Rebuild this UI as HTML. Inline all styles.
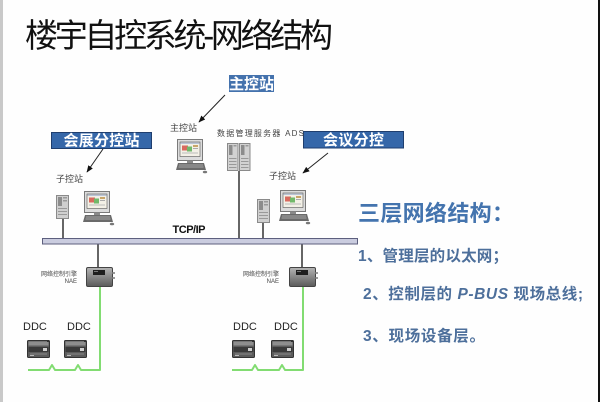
<!DOCTYPE html>
<html><head><meta charset="utf-8">
<style>
html,body{margin:0;padding:0;background:#fff;}
svg{display:block;}
</style></head>
<body>
<svg width="600" height="402" viewBox="0 0 600 402" xmlns="http://www.w3.org/2000/svg">
<defs>
  <marker id="ah" viewBox="0 0 10 10" refX="9" refY="5" markerWidth="7" markerHeight="7" orient="auto" markerUnits="userSpaceOnUse">
    <path d="M0,1 L10,5 L0,9 z" fill="#111"/>
  </marker>
  <g id="pc">
    <rect x="2.5" y="0.5" width="25" height="21" fill="#dcdcdc" stroke="#7a7a7a"/>
    <rect x="5" y="3" width="20" height="14.5" fill="#f3f0e6" stroke="#555" stroke-width="0.6"/>
    <rect x="5.5" y="3.5" width="19" height="1.5" fill="#b9c3d6"/>
    <rect x="7" y="6.5" width="6" height="5" fill="#d86a5e"/>
    <rect x="12" y="7.5" width="5" height="5" fill="#72b86a"/>
    <rect x="18" y="6" width="5" height="2" fill="#c8a56a"/>
    <rect x="18" y="9" width="5" height="1" fill="#aaa"/>
    <rect x="7" y="13.5" width="16" height="1" fill="#bbb"/>
    <rect x="12" y="21.5" width="6" height="2.5" fill="#8a8a8a"/>
    <polygon points="3,24 29,24 31,31 1,31" fill="#6a6a6a"/>
    <rect x="4" y="25.5" width="24" height="1" fill="#a5a5a5"/>
    <rect x="3.5" y="27.5" width="25" height="1" fill="#a5a5a5"/>
    <ellipse cx="30" cy="33" rx="2.2" ry="1.3" fill="#777"/>
  </g>
  <g id="tower">
    <rect x="0.5" y="0.5" width="12" height="23" fill="#cfcfcf" stroke="#8a8a8a"/>
    <rect x="2" y="2" width="4" height="9" fill="#8c8c8c"/>
    <rect x="7" y="2" width="4" height="1.5" fill="#999"/>
    <rect x="7" y="5" width="4" height="1.5" fill="#999"/>
    <rect x="2" y="13" width="9" height="1" fill="#999"/>
    <rect x="2" y="16" width="9" height="1" fill="#999"/>
    <rect x="2" y="19" width="9" height="1" fill="#999"/>
  </g>
  <g id="srv">
    <rect x="0.5" y="0.5" width="10.5" height="27" fill="#d2d2d2" stroke="#8a8a8a"/>
    <rect x="2" y="2" width="3.5" height="10" fill="#8c8c8c"/>
    <rect x="6.5" y="2" width="3" height="1.5" fill="#999"/>
    <rect x="2" y="15" width="7.5" height="1" fill="#999"/>
    <rect x="2" y="18" width="7.5" height="1" fill="#999"/>
    <rect x="2" y="21" width="7.5" height="1" fill="#999"/>
    <rect x="2" y="24" width="7.5" height="1" fill="#999"/>
  </g>
  <linearGradient id="naeg" x1="0" y1="0" x2="0" y2="1">
    <stop offset="0" stop-color="#b5b5b5"/>
    <stop offset="1" stop-color="#5a5a5a"/>
  </linearGradient>
  <g id="nae">
    <rect x="0.5" y="0.5" width="26" height="19" rx="1.5" fill="url(#naeg)" stroke="#444"/>
    <rect x="7" y="3" width="12" height="5" fill="#1e1e1e"/>
    <rect x="8" y="4" width="4" height="1" fill="#777"/>
    <rect x="26.5" y="5" width="2.5" height="2" fill="#999"/>
    <rect x="26.5" y="10" width="2.5" height="2" fill="#999"/>
  </g>
  <g id="ddc">
    <rect x="0.5" y="0.5" width="22" height="17" rx="1" fill="#5c5c5c" stroke="#333"/>
    <rect x="1.5" y="1.5" width="20" height="4" fill="#8e8e8e"/>
    <rect x="1.5" y="7" width="20" height="5" fill="#3a3a3a"/>
    <rect x="16" y="8" width="4" height="3" fill="#cfcfcf"/>
    <rect x="3" y="13.5" width="17" height="1" fill="#888"/>
    <rect x="3" y="15" width="4" height="1" fill="#bbb"/>
    <rect x="20" y="0" width="2" height="2" fill="#333"/>
  </g>
</defs>

<rect width="600" height="402" fill="#fefefe"/>
<rect x="0" y="0" width="3" height="402" fill="#c9c9c9"/>
<rect x="598" y="0" width="2" height="402" fill="#111"/>

<!-- Title -->
<text x="25" y="47" font-family="'Liberation Sans','Noto Sans CJK SC',sans-serif" font-size="33" fill="#111" textLength="308">楼宇自控系统-网络结构</text>

<!-- Blue labels -->
<rect x="229" y="75" width="45" height="17" fill="#4472ad"/>
<text x="251.5" y="89" text-anchor="middle" font-family="'Noto Sans CJK SC',sans-serif" font-weight="bold" font-size="15" fill="#fff">主控站</text>

<rect x="51.5" y="132.5" width="100" height="16" fill="#3567a9" stroke="#1f3e6e"/>
<text x="101.5" y="145.5" text-anchor="middle" font-family="'Noto Sans CJK SC',sans-serif" font-weight="bold" font-size="15" fill="#fff" textLength="76">会展分控站</text>

<rect x="303.5" y="131.5" width="100" height="16.5" fill="#3567a9" stroke="#1f3e6e"/>
<text x="353.5" y="145" text-anchor="middle" font-family="'Noto Sans CJK SC',sans-serif" font-weight="bold" font-size="15" fill="#fff" textLength="61">会议分控</text>

<!-- Arrows -->
<line x1="225" y1="95" x2="199" y2="122" stroke="#222" stroke-width="1" marker-end="url(#ah)"/>
<line x1="103" y1="149" x2="87" y2="172" stroke="#222" stroke-width="1" marker-end="url(#ah)"/>
<line x1="328" y1="153" x2="303" y2="173" stroke="#222" stroke-width="1" marker-end="url(#ah)"/>

<!-- small labels -->
<g font-family="'Liberation Sans','Noto Sans CJK SC',sans-serif" fill="#444">
  <text x="170" y="131" font-size="9">主控站</text>
  <text x="217" y="136" font-size="8" textLength="87">数据管理服务器 ADS</text>
  <text x="56" y="182" font-size="9">子控站</text>
  <text x="269" y="179" font-size="9">子控站</text>
  <text x="77" y="276" font-size="6" text-anchor="end">网络控制引擎</text>
  <text x="77" y="283" font-size="6" text-anchor="end">NAE</text>
  <text x="279" y="276" font-size="6" text-anchor="end">网络控制引擎</text>
  <text x="279" y="283" font-size="6" text-anchor="end">NAE</text>
</g>

<!-- connection lines to bus -->
<g stroke="#333" stroke-width="1.5">
  <line x1="63" y1="219" x2="63" y2="238"/>
  <line x1="239" y1="171" x2="239" y2="238"/>
  <line x1="263" y1="223" x2="263" y2="238"/>
  <line x1="98" y1="244" x2="98" y2="268"/>
  <line x1="302" y1="244" x2="302" y2="268"/>
</g>

<!-- devices -->
<use href="#pc" x="175" y="139"/>
<use href="#srv" x="227" y="143"/>
<use href="#srv" x="239" y="143"/>
<use href="#tower" x="56" y="195"/>
<use href="#pc" x="82" y="191"/>
<use href="#tower" x="257" y="199"/>
<use href="#pc" x="278" y="190"/>

<!-- Bus -->
<rect x="42.5" y="238.5" width="315" height="5.5" fill="#caccdf" stroke="#5d5f7e"/>
<text x="189" y="233" text-anchor="middle" font-family="'Liberation Sans',sans-serif" font-weight="bold" font-size="11" fill="#111" textLength="33">TCP/IP</text>

<!-- NAE -->
<use href="#nae" x="86" y="267"/>
<use href="#nae" x="289" y="267"/>

<!-- green field bus -->
<g fill="none" stroke="#82dc72" stroke-width="2" stroke-linejoin="round">
  <path d="M100,287 L100,370 L81,370 L78,365 L75,370 L55,370 L52,365 L49,370 L28,370"/>
  <path d="M303,287 L303,370 L285,370 L282,365 L279,370 L258,370 L255,365 L252,370 L232,370"/>
</g>

<!-- DDC -->
<g font-family="'Liberation Sans',sans-serif" font-size="11" fill="#222">
  <text x="23" y="330">DDC</text>
  <text x="67" y="330">DDC</text>
  <text x="233" y="330">DDC</text>
  <text x="274" y="330">DDC</text>
</g>
<use href="#ddc" x="27" y="340"/>
<use href="#ddc" x="64" y="340"/>
<use href="#ddc" x="232" y="340"/>
<use href="#ddc" x="271" y="340"/>

<!-- right text -->
<text x="358" y="221" font-family="'Noto Sans CJK SC',sans-serif" font-weight="bold" font-size="22" fill="#4474ae" textLength="156">三层网络结构：</text>
<g font-family="'Liberation Sans','Noto Sans CJK SC',sans-serif" font-weight="bold" font-size="15.5" fill="#4d6f9b">
  <text x="358" y="261" textLength="150">1、管理层的以太网；</text>
  <text x="363" y="299" textLength="220">2、控制层的 <tspan font-style="italic">P-BUS</tspan> 现场总线;</text>
  <text x="363" y="341" textLength="122">3、现场设备层。</text>
</g>
</svg>
</body></html>
